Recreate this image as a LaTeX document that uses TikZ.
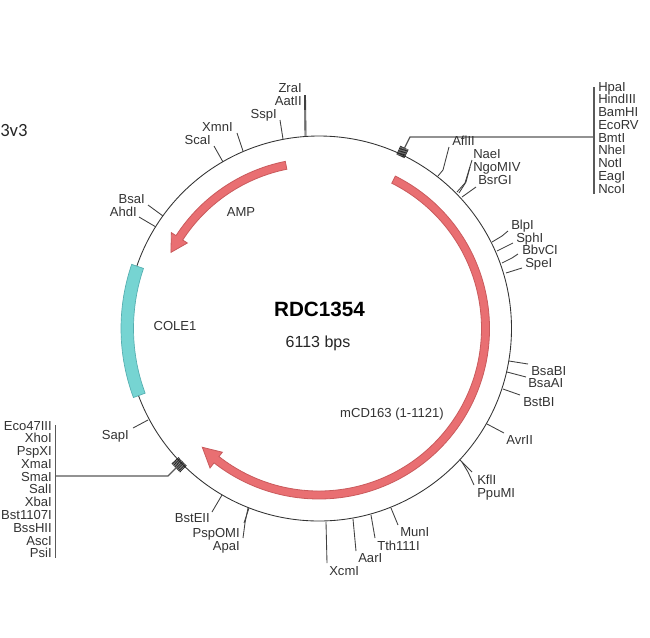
\documentclass[tikz,border=0pt]{standalone}
\usepackage{fontspec}
\setmainfont{Liberation Sans}
\newfontfamily\cali{Carlito}
\tikzset{
  x=0.75pt,y=0.75pt,
  wire/.style={draw=black!75,line width=0.65pt},
  hub/.style={draw=black!65,line width=0.9pt},
  lab/.style={inner sep=0pt,text height=7pt,text depth=0pt,font=\fontsize{9.8}{11}\selectfont,text=black!80},
  labl/.style={lab,anchor=west},
  labr/.style={lab,anchor=east},
  feat/.style={fill=cdsred,draw=cdsedge,line width=0.6pt},
  stripe/.style={draw=black!85,line width=0.6pt},
}
\definecolor{cdsred}{HTML}{E96F72}
\definecolor{cdsedge}{HTML}{C95A5C}
\definecolor{oricy}{HTML}{76D4D2}
\definecolor{oriedge}{HTML}{55AEB0}
\newcommand{\site}[5]{% name, label style, text pos, label, path
  \node[#2] (#1) at #3 {#4};
  \draw[wire] #5;
}
\begin{document}
\begin{tikzpicture}
\useasboundingbox (0,0) rectangle (650,-637);
\fill[white] (0,0) rectangle (650,-637);
\coordinate (c) at (319,-328.5);
\draw[draw=black!80,line width=0.65pt] (c) circle[radius=192.5];
% features
\begin{scope}[shift={(c)}]
\draw[feat] (63.4:170.5) arc[start angle=63.4,end angle=-128,radius=170.5]
  -- (-128:177) -- (-134.5:166.5) -- (-128:157) -- (-128:162.5)
  arc[start angle=-128,end angle=63.4,radius=162.5] -- cycle;
\draw[feat] (101.4:170.5) arc[start angle=101.4,end angle=147,radius=170.5]
  -- (147:176) -- (152.8:166.5) -- (147:157) -- (147:162.5)
  arc[start angle=147,end angle=101.4,radius=162.5] -- cycle;
\draw[fill=oricy,draw=oriedge,line width=0.5pt] (161.1:198) arc[start angle=161.1,end angle=200.4,radius=198]
  -- (200.4:185.5) arc[start angle=200.4,end angle=161.1,radius=185.5] -- cycle;
% site bundles on the ring
\foreach \k in {0,...,8}
  \draw[stripe] ({63.5+0.3*\k}:190.5) -- ({63.5+0.3*\k}:200);
\foreach \k in {0,...,10}
  \draw[stripe] ({222.6+0.33*\k}:190.5) -- ({222.6+0.33*\k}:200);
\end{scope}
% centre texts
\node[inner sep=0pt,font=\fontsize{15.5}{18}\selectfont\bfseries] (title) at (319.5,-309) {RDC1354};
\node[inner sep=0pt,font=\fontsize{12}{14}\selectfont,text=black!85] (size) at (318,-343) {6113 bps};
\node[lab] (amp) at (241,-212) {AMP};
\node[lab] (cole) at (175,-326) {COLE1};
\node[lab] (cd) at (392,-413) {mCD163 (1-1121)};
\node[inner sep=0pt,anchor=west,font=\cali\fontsize{14}{16}\selectfont,text=black!85] (ver) at (0,-130) {3v3};
% top right group
\coordinate (mA) at (404,-149);
\coordinate (hA) at (410,-137);
\coordinate (bA1) at (594,-87);
\coordinate (bA2) at (594,-194);
\draw[hub] (bA1) -- (bA2);
\draw[hub] (mA) -- (hA) -- (bA1 |- hA);
\foreach \n/\t/\y in {a1/HpaI/87,a2/HindIII/99,a3/BamHI/112,a4/EcoRV/125,a5/BmtI/138,a6/NheI/150,a7/NotI/163,a8/EagI/176,a9/NcoI/189}
  \node[labl] (\n) at (598,-\y) {\t};
% bottom left group
\coordinate (mB) at (177,-467);
\coordinate (hB) at (168,-476);
\coordinate (bB1) at (55.5,-425);
\coordinate (bB2) at (55.5,-558);
\draw[hub] (bB1) -- (bB2);
\draw[hub] (mB) -- (hB) -- (bB1 |- hB);
\foreach \n/\t/\y in {b1/Eco47III/426,b2/XhoI/438,b3/PspXI/451,b4/XmaI/464,b5/SmaI/477,b6/SalI/489,b7/XbaI/502,b8/Bst1107I/515,b9/BssHII/528,b10/AscI/541,b11/PsiI/553}
  \node[labr] (\n) at (52,-\y) {\t};
% single sites
\site{s1}{labl}{(452,-141)}{AflII}{(438,-176) -- (443,-170) -- (449,-147)}
\site{s2}{labl}{(473,-154)}{NaeI}{(457,-192) -- (465,-183) -- (472,-160)}
\site{s3}{labl}{(473,-167)}{NgoMIV}{(459,-193) -- (466,-182) -- (470,-167)}
\site{s4}{labl}{(478,-180)}{BsrGI}{(462,-197) -- (476,-187)}
\site{s5}{labl}{(511,-225)}{BlpI}{(492,-242) -- (502,-236) -- (508,-231)}
\site{s6}{labl}{(516,-238)}{SphI}{(497,-251) -- (513,-243)}
\site{s7}{labl}{(522,-250)}{BbvCI}{(502,-263) -- (512,-258) -- (518,-254)}
\site{s8}{labl}{(525,-263)}{SpeI}{(506,-273) -- (522,-268)}
\site{s9}{labl}{(531,-371)}{BsaBI}{(509,-361) -- (528,-364)}
\site{s10}{labl}{(528,-383)}{BsaAI}{(507,-372) -- (526,-377)}
\site{s11}{labl}{(523,-402)}{BstBI}{(503,-389) -- (520,-395)}
\site{s12}{labl}{(506,-440)}{AvrII}{(487,-424) -- (504,-433)}
\site{s13}{labl}{(477,-480)}{KflI}{(460,-460) -- (472,-472)}
\site{s14}{labl}{(477,-493)}{PpuMI}{(462,-462) -- (468,-472) -- (474,-485)}
\site{s15}{labl}{(400,-532)}{MunI}{(391,-508) -- (398,-525)}
\site{s16}{labl}{(377,-546)}{Tth111I}{(371,-515) -- (375,-538)}
\site{s17}{labl}{(358,-558)}{AarI}{(353,-519) -- (356,-551)}
\site{s18}{labl}{(329,-571)}{XcmI}{(326,-522) -- (327,-563)}
\site{s19}{labr}{(240,-533)}{PspOMI}{(249,-508) -- (244,-523)}
\site{s20}{labr}{(240,-546)}{ApaI}{(248,-508) -- (245,-523) -- (243,-538)}
\site{s21}{labr}{(210,-518)}{BstEII}{(222,-495) -- (212,-512)}
\site{s22}{labr}{(129,-435)}{SapI}{(148,-420) -- (133,-428)}
\site{s23}{labr}{(137,-212)}{AhdI}{(156,-227) -- (139,-217)}
\site{s24}{labr}{(145,-199)}{BsaI}{(163,-216) -- (148,-205)}
\site{s25}{labr}{(211,-140)}{ScaI}{(223,-162) -- (214,-146)}
\site{s26}{labr}{(233,-127)}{XmnI}{(243,-151) -- (237,-133)}
\site{s27}{labr}{(277,-114)}{SspI}{(283,-139) -- (280,-120)}
\site{s28}{labr}{(302,-88)}{ZraI}{(305,-136) -- (304.5,-95)}
\site{s29}{labr}{(302,-101)}{AatII}{(306,-136) -- (305.5,-95)}
\end{tikzpicture}
\end{document}
